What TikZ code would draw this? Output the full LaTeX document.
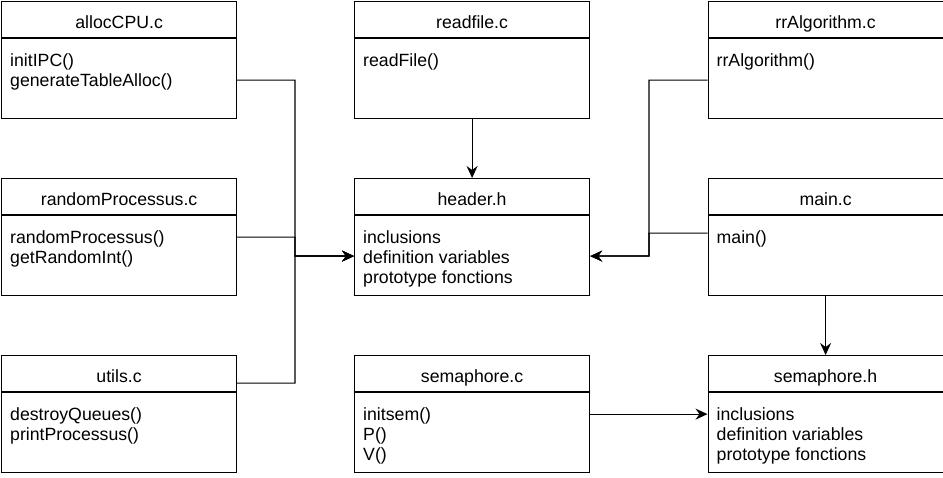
\documentclass[tikz,border=0pt]{standalone}
\usepackage{fontspec}
\setmainfont{Liberation Sans}
\usetikzlibrary{arrows.meta}
\tikzset{
  box/.style={draw, line width=1.2pt, minimum width=235pt, minimum height=117pt, inner sep=0pt, anchor=north west},
  ttl/.style={anchor=base, inner sep=0pt, font=\fontsize{17.7}{20}\selectfont},
  bdy/.style={anchor=north west, align=left, inner sep=0pt, font=\fontsize{17.7}{20}\selectfont},
  ln/.style={line width=1.2pt},
  arr/.style={line width=1.2pt, -{Stealth[length=12pt,width=11pt,inset=4pt]}}
}
\newcommand\classbox[5]{%
  \node[box] (#1) at (#2,#3) {};
  \draw[ln] ([yshift=-37pt]#1.north west) -- ([yshift=-37pt]#1.north east);
  \node[ttl] (#1t) at ([yshift=-27pt]#1.north) {#4};
  \node[bdy] (#1b) at ([xshift=9pt,yshift=-51pt]#1.north west) {\strut #5};
}
\begin{document}
\begin{tikzpicture}[x=1pt,y=-1pt]
\fill[white] (0,0) rectangle (943,477);
\useasboundingbox (0,0) rectangle (943,477);
\classbox{alloc}{1}{1}{allocCPU.c}{initIPC()\\generateTableAlloc()}
\classbox{rand}{1}{178}{randomProcessus.c}{randomProcessus()\\getRandomInt()}
\classbox{utils}{1}{355}{utils.c}{destroyQueues()\\printProcessus()}
\classbox{read}{354}{1}{readfile.c}{readFile()}
\classbox{header}{354}{178}{header.h}{inclusions\\definition variables\\prototype fonctions}
\classbox{semc}{354}{355}{semaphore.c}{initsem()\\P()\\V()}
\classbox{rr}{707.5}{1}{rrAlgorithm.c}{rrAlgorithm()}
\classbox{main}{707.5}{178}{main.c}{main()}
\classbox{semh}{707.5}{355}{semaphore.h}{inclusions\\definition variables\\prototype fonctions}
\coordinate (trunkL) at (295,256);
\coordinate (trunkR) at (649,256);
\draw[arr] ([yshift=-20pt]alloc.east) -| (trunkL) -- ([yshift=-19pt]header.west);
\draw[arr] (rand.east) -| (trunkL) -- ([yshift=-19pt]header.west);
\draw[arr] ([yshift=31pt]utils.east) -| (trunkL) -- ([yshift=-19pt]header.west);
\draw[arr] ([yshift=-20pt]rr.west) -| (trunkR) -- ([yshift=-19pt]header.east);
\draw[arr] ([yshift=4pt]main.west) -| (trunkR) -- ([yshift=-19pt]header.east);
\draw[arr] (read.south) -- (header.north);
\draw[arr] (main.south) -- (semh.north);
\draw[arr] (semc.east) -- (semh.west);
\end{tikzpicture}
\end{document}
